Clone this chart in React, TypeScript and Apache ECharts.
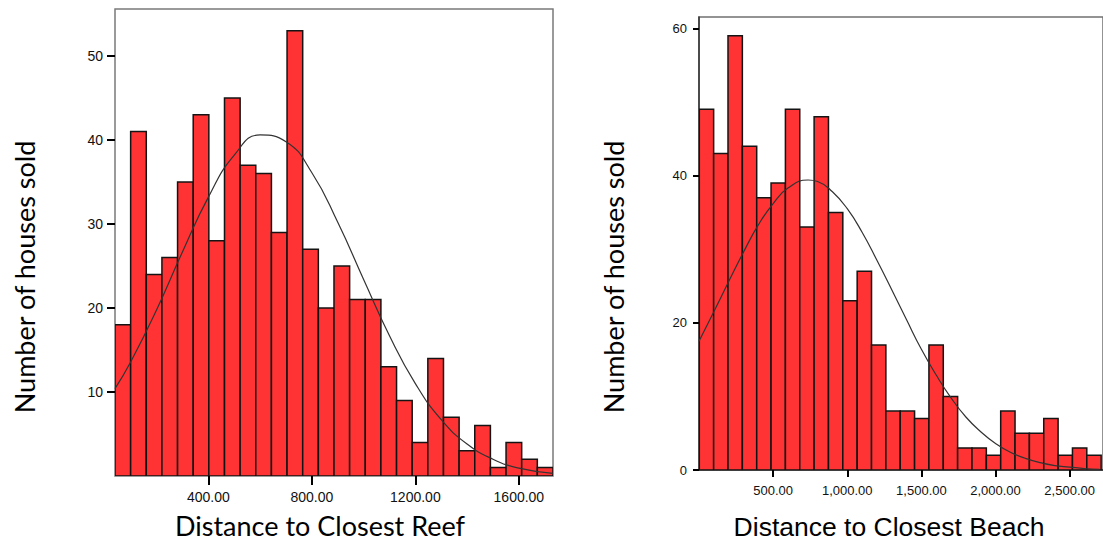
import React, { useEffect, useRef } from "react";
import * as echarts from "echarts";

// ---- Data ----
const reefCounts = [18, 41, 24, 26, 35, 43, 28, 45, 37, 36, 29, 53, 27, 20, 25, 21, 21, 13, 9, 4, 14, 7, 3, 6, 1, 4, 2, 1];
const reefBinStart = 39;
const reefBinWidth = 60.46;
const reefXTicks = [400, 800, 1200, 1600];
const reefYTicks = [10, 20, 30, 40, 50];
const reefCurve: [number, number][] = [
  [39, 10.4], [100, 13.6], [200, 19.8], [300, 26.7], [400, 33.2], [500, 38.2], [600, 40.6],
  [700, 39.8], [800, 36.1], [900, 30.2], [1000, 23.4], [1100, 16.7], [1200, 11.0], [1300, 6.7],
  [1400, 3.8], [1500, 2.0], [1600, 0.94], [1732, 0.32],
];

const beachCounts = [49, 43, 59, 44, 37, 39, 49, 33, 48, 35, 23, 27, 17, 8, 8, 7, 17, 10, 3, 3, 2, 8, 5, 5, 7, 2, 3, 2];
const beachBinStart = 2;
const beachBinWidth = 96.8;
const beachXTicks = [500, 1000, 1500, 2000, 2500];
const beachYTicks = [0, 20, 40, 60];
const beachCurve: [number, number][] = [
  [0, 17.5], [100, 21.5], [200, 25.6], [300, 29.6], [400, 33.3], [500, 36.2], [600, 38.3],
  [736, 39.4], [800, 39.2], [900, 37.8], [1000, 35.5], [1100, 32.3], [1200, 28.5], [1300, 24.5],
  [1400, 20.4], [1500, 16.4], [1600, 12.9], [1700, 9.8], [1800, 7.2], [1900, 5.2], [2000, 3.6],
  [2100, 2.4], [2200, 1.6], [2300, 1.0], [2400, 0.6], [2500, 0.4], [2600, 0.2], [2700, 0.1],
];

const reefXTitle = "Distance to Closest Reef";
const beachXTitle = "Distance to Closest Beach";
const yTitle = "Number of houses sold";

function bins(counts: number[], start: number, width: number) {
  return counts.map((c, i) => [start + i * width, start + (i + 1) * width, c]);
}

const renderBar = (params: any, api: any) => {
  const x0 = api.value(0);
  const x1 = api.value(1);
  const c = api.value(2);
  const p0 = api.coord([x0, c]);
  const p1 = api.coord([x1, 0]);
  return {
    type: "rect",
    shape: { x: p0[0], y: p0[1], width: p1[0] - p0[0], height: p1[1] - p0[1] },
    style: { fill: "#ff3333", stroke: "#141414", lineWidth: 1.5 },
  };
};

const fmtComma = (v: number) =>
  v.toLocaleString("en-US", { minimumFractionDigits: 2, maximumFractionDigits: 2 });

export default function App() {
  const ref = useRef<HTMLDivElement>(null);
  useEffect(() => {
    if (!ref.current) return;
    const chart = echarts.init(ref.current, undefined, { renderer: "svg" });
    const tickLabel = { color: "#111", fontFamily: "Liberation Sans, Arial, sans-serif" };
    chart.setOption({
      animation: false,
      backgroundColor: "#ffffff",
      grid: [
        { left: 115, top: 9, width: 438, height: 467, show: true, borderColor: "#7a7a7a", borderWidth: 1.5, backgroundColor: "transparent" },
        { left: 699, top: 17, width: 412, height: 453, show: true, borderColor: "#707070", borderWidth: 1.5, backgroundColor: "transparent" },
      ],
      xAxis: [
        {
          type: "value", gridIndex: 0, min: 39, max: 1732,
          axisLine: { show: false },
          splitLine: { show: false },
          axisTick: { show: true, customValues: reefXTicks, length: 9, lineStyle: { color: "#000", width: 2 } },
          axisLabel: { ...tickLabel, fontSize: 14, margin: 14, customValues: reefXTicks, formatter: (v: number) => v.toFixed(2) },
        },
        {
          type: "value", gridIndex: 1, min: 0, max: 412 / 0.1512,
          axisLine: { show: true, lineStyle: { color: "#222", width: 1.5 } },
          splitLine: { show: false },
          axisTick: { show: true, customValues: beachXTicks, length: 7, lineStyle: { color: "#000", width: 2 } },
          axisLabel: { ...tickLabel, fontSize: 13, margin: 14, customValues: beachXTicks, formatter: fmtComma },
        },
      ],
      yAxis: [
        {
          type: "value", gridIndex: 0, min: 0, max: 467 / 8.4,
          axisLine: { show: false },
          splitLine: { show: false },
          axisTick: { show: true, customValues: reefYTicks, length: 8, lineStyle: { color: "#000", width: 2 } },
          axisLabel: { ...tickLabel, fontSize: 14, margin: 12, customValues: reefYTicks },
        },
        {
          type: "value", gridIndex: 1, min: 0, max: 453 / 7.36,
          axisLine: { show: true, lineStyle: { color: "#333", width: 1.5 } },
          splitLine: { show: false },
          axisTick: { show: true, customValues: beachYTicks, length: 6, lineStyle: { color: "#000", width: 2 } },
          axisLabel: { ...tickLabel, fontSize: 13, margin: 12, customValues: beachYTicks },
        },
      ],
      series: [
        {
          type: "custom", xAxisIndex: 0, yAxisIndex: 0, clip: true,
          renderItem: renderBar,
          encode: { x: [0, 1], y: 2 },
          data: bins(reefCounts, reefBinStart, reefBinWidth),
        },
        {
          type: "line", xAxisIndex: 0, yAxisIndex: 0, smooth: true, showSymbol: false, z: 5,
          lineStyle: { color: "#333", width: 1.2 },
          data: reefCurve,
        },
        {
          type: "custom", xAxisIndex: 1, yAxisIndex: 1, clip: true,
          renderItem: renderBar,
          encode: { x: [0, 1], y: 2 },
          data: bins(beachCounts, beachBinStart, beachBinWidth),
        },
        {
          type: "line", xAxisIndex: 1, yAxisIndex: 1, smooth: true, showSymbol: false, z: 5,
          lineStyle: { color: "#333", width: 1.2 },
          data: beachCurve,
        },
      ],
      graphic: [
        {
          type: "text", x: 320, y: 539,
          style: { text: reefXTitle, fontSize: 27, fontFamily: "Lato, sans-serif", fill: "#000", align: "center", verticalAlign: "bottom" },
        },
        {
          type: "text", x: 889, y: 540,
          style: { text: beachXTitle, fontSize: 26.5, fontFamily: "Liberation Sans, Arial, sans-serif", fill: "#000", align: "center", verticalAlign: "bottom" },
        },
        {
          type: "text", x: 24, y: 277, rotation: Math.PI / 2,
          style: { text: yTitle, fontSize: 27, fontFamily: "Lato, sans-serif", fill: "#000", align: "center", verticalAlign: "middle" },
        },
        {
          type: "text", x: 613, y: 277, rotation: Math.PI / 2,
          style: { text: yTitle, fontSize: 27, fontFamily: "Lato, sans-serif", fill: "#000", align: "center", verticalAlign: "middle" },
        },
      ],
    });
    return () => chart.dispose();
  }, []);
  return (
    <div
      ref={ref}
      style={{ position: "fixed", left: 0, top: 0, width: 1103, height: 544, background: "#fff" }}
    />
  );
}
